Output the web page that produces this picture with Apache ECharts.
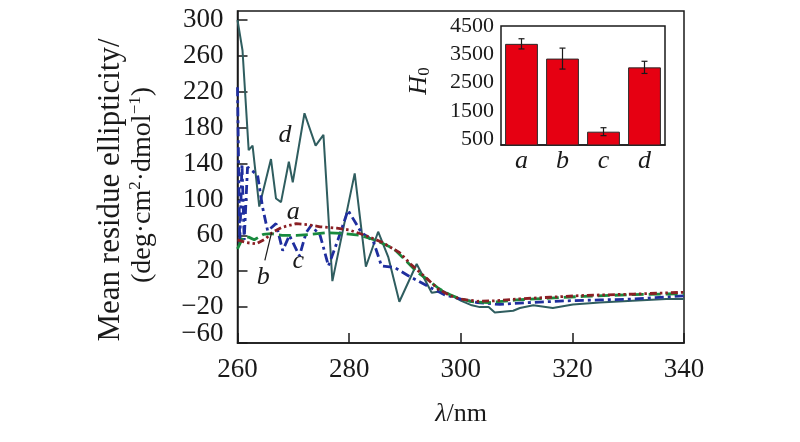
<!DOCTYPE html>
<html>
<head>
<meta charset="utf-8">
<script src="https://cdn.jsdelivr.net/npm/echarts@6/dist/echarts.min.js"></script>
<style>html,body{margin:0;padding:0;background:#fff}#c{width:800px;height:442px}</style>
</head>
<body>
<div id="c"></div>
<script>
// ---- data ----
const dLambda = [260,260.9,262.0,262.7,263.9,266.0,266.9,267.8,269.2,269.9,272.0,274.0,275.4,277.0,281.0,283.0,285.2,287.0,289.0,292.1,294.8,296.8,300.1,302,303.4,305,306.1,309.4,310.6,313,316.5,320.1,324.9,330.8,336.8,340];
const dValue  = [300,266,155,160,92,145,101,97,142,119,196,160,172,9,129,25,64,36,-14,28,-4,-2,-13,-18,-20,-20,-26,-24,-21,-18,-21,-17,-15,-13,-11,-11];

const aLambda = [260,261.5,263.3,265,266.3,268,270.5,272.5,274.8,277.8,280,281.9,283.7,286,287.3,289,291,293.9,296,298,300,303,306,310,316,322,331,340];
const aValue  = [55,52,50.5,56,63.5,69,73,72,69.5,68,66,62,58,52,47,41,28,12,0,-7,-11,-13.5,-13,-11,-9,-7,-5.5,-3.5];

const bLambda = [260,261,262,263,264.6,266,268,270.6,273,276,279,282,285,288,290,292,294,296,298,300,302,305,310,316,322,331,340];
const bValue  = [45,58,58,55,61,62,60,60,61,63,62,60,54,45,33,20,11,1,-6,-11,-14,-15,-12,-10,-8,-6,-5];

const cLambda = [260,260.4,260.8,261.2,261.8,263.6,264.5,265.4,266.9,268.1,269.3,271.1,272.3,273.2,274.8,276.3,278,279.8,282.2,284.3,285.8,288.2,290.6,294.5,297,300,303,307,312,319,325,331,340];
const cValue  = [225,50,140,55,136,127,91,65,73,43,60,37,63,71,60,26,55,88,63,54,26,24,15,2,-6,-11,-15,-17,-15,-13,-12,-11,-7.5];

const yTicks = [-60,-20,20,60,100,140,180,220,260,300];

const barCats = ['a','b','c','d'];
const barValue = [3870,3350,770,3040];
const barErr   = [180,370,140,215];
const insetTicks = [500,1500,2500,3500,4500];

const annText = ['a','b','c','d'];
const annLambda = [270.0,264.6,270.9,268.5];
const annValue = [86,13,31,172];
const leaderLambda = [264.9,266.1];
const leaderValue = [32,63];

// ---- chart ----
const zip = (xs, ys) => xs.map((x, i) => [x, ys[i]]);
const FONT = '"Liberation Serif", "Times New Roman", serif';
const ink = '#1a1a1a';

const chart = echarts.init(document.getElementById('c'));
chart.setOption({
  animation: false,
  backgroundColor: '#fff',
  grid: [
    {left: 237.5, right: 116, top: 11, bottom: 99, show: true, borderColor: ink, borderWidth: 1.5},
    {left: 501, right: 135, top: 26, bottom: 297, show: true, borderColor: ink, borderWidth: 1.5}
  ],
  xAxis: [
    {type: 'value', gridIndex: 0, min: 260, max: 340, interval: 20,
     axisLine: {onZero: false, lineStyle: {color: ink, width: 1.5}},
     axisTick: {inside: true, length: 10, lineStyle: {color: ink, width: 1.5}},
     splitLine: {show: false},
     axisLabel: {fontFamily: FONT, fontSize: 27, color: ink, margin: 13}},
    {type: 'category', gridIndex: 1, data: barCats,
     axisLine: {onZero: false, lineStyle: {color: ink, width: 1.5}},
     axisTick: {show: false},
     axisLabel: {fontFamily: FONT, fontSize: 26, fontStyle: 'italic', color: ink, margin: 3}}
  ],
  yAxis: [
    {type: 'value', gridIndex: 0, min: -60, max: 310,
     axisLine: {onZero: false, lineStyle: {color: ink, width: 1.5}},
     axisTick: {inside: true, length: 10, customValues: yTicks, lineStyle: {color: ink, width: 1.5}},
     splitLine: {show: false},
     axisLabel: {fontFamily: FONT, fontSize: 27, color: ink, margin: 14, customValues: yTicks,
       formatter: v => v === -60 ? '{m|\u221260}' : String(v).replace('-', '\u2212'),
       rich: {m: {fontFamily: FONT, fontSize: 27, color: ink, padding: [0, 0, 18, 0]}}}},
    {type: 'value', gridIndex: 1, min: 300, max: 4500,
     axisLine: {onZero: false, lineStyle: {color: ink, width: 1.5}},
     axisTick: {inside: true, length: 6, customValues: insetTicks, lineStyle: {color: ink, width: 1.5}},
     splitLine: {show: false},
     axisLabel: {fontFamily: FONT, fontSize: 22, color: ink, margin: 7, customValues: insetTicks,
       formatter: v => String(v)}}
  ],
  series: [
    {type: 'line', xAxisIndex: 0, yAxisIndex: 0, data: zip(dLambda, dValue), showSymbol: false,
     lineStyle: {color: '#2f5d5f', width: 2}},
    {type: 'line', xAxisIndex: 0, yAxisIndex: 0, data: zip(cLambda, cValue), showSymbol: false,
     lineStyle: {color: '#1f2e9e', width: 2.8, type: [9, 4, 3, 4]}},
    {type: 'line', xAxisIndex: 0, yAxisIndex: 0, data: zip(bLambda, bValue), showSymbol: false,
     lineStyle: {color: '#198a3e', width: 2.8, type: [12, 5]}},
    {type: 'line', xAxisIndex: 0, yAxisIndex: 0, data: zip(aLambda, aValue), showSymbol: false,
     lineStyle: {color: '#8a1f24', width: 2.8, type: [7, 3, 2.5, 3, 2.5, 3]}},
    {type: 'line', xAxisIndex: 0, yAxisIndex: 0, data: zip(leaderLambda, leaderValue), showSymbol: false,
     lineStyle: {color: ink, width: 1.2}},
    {type: 'scatter', xAxisIndex: 0, yAxisIndex: 0, symbolSize: 0, itemStyle: {opacity: 1},
     data: annLambda.map((x, i) => [x, annValue[i], annText[i]]),
     label: {show: true, position: 'inside', formatter: p => p.data[2],
       fontFamily: FONT, fontSize: 26, fontStyle: 'italic', color: ink}},
    {type: 'bar', xAxisIndex: 1, yAxisIndex: 1, data: barValue, barCategoryGap: '20%',
     itemStyle: {color: '#e60012', borderColor: '#2a2a2a', borderWidth: 1}},
    {type: 'custom', xAxisIndex: 1, yAxisIndex: 1,
     data: barValue.map((v, i) => [i, v - barErr[i], v + barErr[i]]),
     renderItem: (params, api) => {
       const lo = api.coord([api.value(0), api.value(1)]);
       const hi = api.coord([api.value(0), api.value(2)]);
       const w = 3;
       const st = {stroke: ink, lineWidth: 1.2};
       return {type: 'group', children: [
         {type: 'line', shape: {x1: lo[0], y1: lo[1], x2: hi[0], y2: hi[1]}, style: st},
         {type: 'line', shape: {x1: lo[0] - w, y1: lo[1], x2: lo[0] + w, y2: lo[1]}, style: st},
         {type: 'line', shape: {x1: hi[0] - w, y1: hi[1], x2: hi[0] + w, y2: hi[1]}, style: st}
       ]};
     }, z: 5}
  ],
  graphic: [
    {type: 'text', x: 111, y: 190, rotation: Math.PI / 2,
     style: {text: 'Mean residue ellipticity/', font: '31px "Liberation Serif"', fill: ink, align: 'center', verticalAlign: 'middle'}},
    {type: 'text', x: 143, y: 185, rotation: Math.PI / 2,
     style: {text: '{n|(deg·cm}{s|2}{n|·dmol}{s|\u22121}{n|)}', align: 'center', verticalAlign: 'middle', fill: ink,
       rich: {n: {fontFamily: FONT, fontSize: 28, lineHeight: 32, fill: ink},
              s: {fontFamily: FONT, fontSize: 17, verticalAlign: 'top', lineHeight: 32, fill: ink}}}},
    {type: 'text', x: 419, y: 81, rotation: Math.PI / 2,
     style: {text: '{h|H}{s|0}', align: 'center', verticalAlign: 'middle', fill: ink,
       rich: {h: {fontFamily: FONT, fontSize: 26, fontStyle: 'italic', lineHeight: 28, fill: ink},
              s: {fontFamily: FONT, fontSize: 17, verticalAlign: 'bottom', lineHeight: 28, fill: ink}}}},
    {type: 'text', x: 461, y: 414,
     style: {text: '{l|λ}{n|/nm}', align: 'center', verticalAlign: 'middle', fill: ink,
       rich: {l: {fontFamily: FONT, fontSize: 26, fontStyle: 'italic', fill: ink},
              n: {fontFamily: FONT, fontSize: 26, fill: ink}}}}
  ]
});
</script>
</body>
</html>
